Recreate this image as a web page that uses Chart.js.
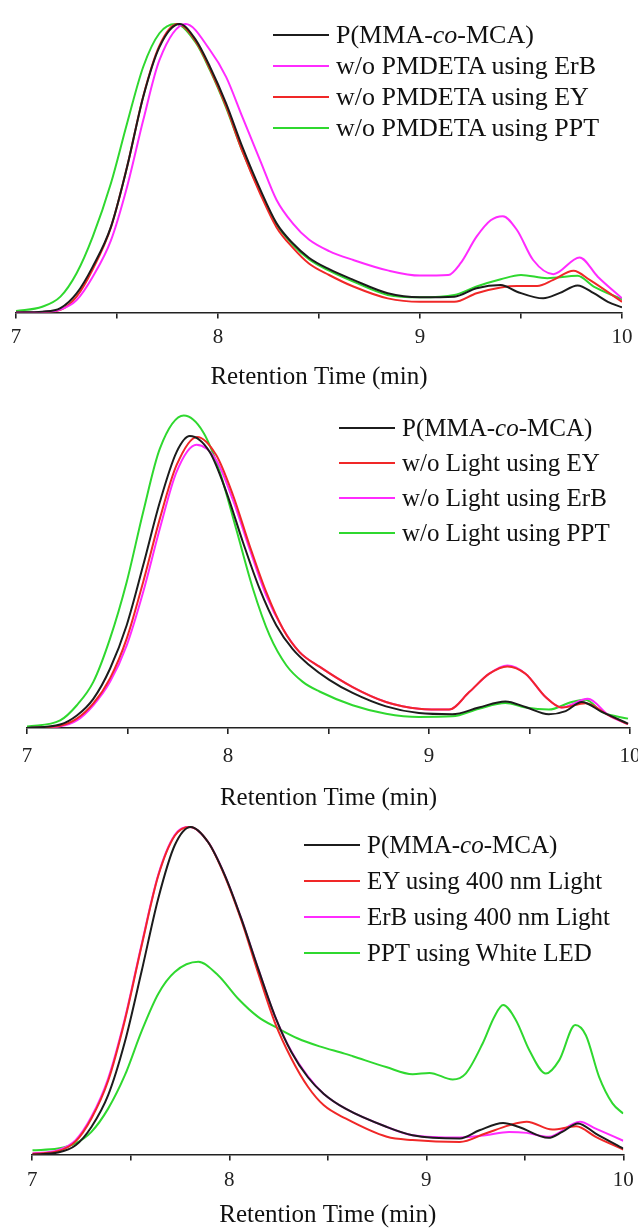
<!DOCTYPE html>
<html>
<head>
<meta charset="utf-8">
<script src="https://cdn.jsdelivr.net/npm/chart.js@4.4.1/dist/chart.umd.min.js"></script>
<style>
    html, body { margin: 0; padding: 0; background: #fff; }
    body {
        width: 638px; height: 1228px; overflow: hidden; position: relative;
        font-family: "Liberation Serif", "Times New Roman", serif;
    }
    canvas { position: absolute; left: 0; }
    .legend { position: absolute; font-size: 25px; color: #111; }
    .legend .row { display: flex; align-items: center; white-space: nowrap; }
    .legend .swatch { display: inline-block; width: 56px; height: 2px; margin-right: 7px; }
</style>
</head>
<body>
<canvas id="gpc-1" width="660" height="400" style="top:0px"></canvas>
<canvas id="gpc-2" width="660" height="420" style="top:400px"></canvas>
<canvas id="gpc-3" width="660" height="430" style="top:805px"></canvas>
<div class="legend" id="legend-1" style="left:273px; top:19.5px; font-size:26px"></div>
<div class="legend" id="legend-2" style="left:339px; top:410.5px"></div>
<div class="legend" id="legend-3" style="left:304px; top:827px"></div>

<script>
// x tick labels (min) and axis title
const xTicks = [7, 8, 9, 10];
const xTitle = 'Retention Time (min)';

const BLACK = '#1c1c1c', MAGENTA = '#ff2bff', RED = '#f02828', GREEN = '#2fd82f';

// ---- panel 1: w/o PMDETA ----
const p1CopolyX = [7.0, 7.13, 7.22, 7.30, 7.38, 7.47, 7.55, 7.63, 7.71, 7.81, 7.89, 7.96, 8.04, 8.12, 8.21, 8.29, 8.37, 8.45, 8.55, 8.67, 8.84, 9.0, 9.17, 9.28, 9.40, 9.48, 9.61, 9.69, 9.78, 9.86, 9.93, 10.0];
const p1CopolyY = [0, 0.3, 1.5, 6.6, 15.9, 29.7, 50.5, 74.8, 92, 100, 94.5, 85.2, 72.5, 57.5, 42.5, 30.9, 24, 19, 15, 11.3, 6.7, 5.3, 5.5, 8.4, 9.5, 7.2, 4.9, 6.7, 9.4, 6.7, 3.7, 1.8];
const p1ErbX = [7.0, 7.13, 7.22, 7.30, 7.38, 7.47, 7.55, 7.63, 7.71, 7.84, 7.96, 8.04, 8.12, 8.21, 8.29, 8.37, 8.45, 8.55, 8.67, 8.84, 9.0, 9.14, 9.20, 9.28, 9.35, 9.41, 9.48, 9.56, 9.66, 9.79, 9.88, 10.0];
const p1ErbY = [0, 0.2, 1.0, 4.3, 12.4, 25, 43.6, 66.7, 87.5, 100, 91, 81.7, 67.9, 52.5, 39, 30.9, 25.3, 21.3, 18.2, 14.6, 12.8, 13, 17, 26.3, 32, 33.4, 28.6, 18.2, 13.3, 19.1, 12.4, 4.9];
const p1EyX = [7.0, 7.13, 7.22, 7.30, 7.38, 7.47, 7.55, 7.63, 7.71, 7.80, 7.89, 7.96, 8.04, 8.12, 8.21, 8.29, 8.37, 8.45, 8.55, 8.67, 8.84, 9.0, 9.17, 9.28, 9.40, 9.48, 9.58, 9.66, 9.76, 9.84, 10.0];
const p1EyY = [0, 0.1, 0.9, 5.5, 15, 29.5, 50.5, 75, 92.5, 100, 94, 84.5, 71.5, 56, 41, 29.5, 22.5, 17, 13, 9, 4.9, 3.7, 3.7, 6.7, 8.7, 9.2, 9.2, 11.3, 14.5, 11.3, 3.7];
const p1PptX = [7.0, 7.13, 7.22, 7.30, 7.38, 7.47, 7.55, 7.63, 7.71, 7.79, 7.89, 7.96, 8.04, 8.12, 8.21, 8.29, 8.37, 8.45, 8.55, 8.67, 8.84, 9.0, 9.17, 9.28, 9.40, 9.50, 9.63, 9.78, 9.86, 10.0];
const p1PptY = [0.5, 2, 5.5, 13.6, 26.3, 44.8, 65.6, 85.2, 96.8, 100, 93.5, 84, 71, 56, 41.5, 30.5, 23.5, 18.5, 14.5, 10.7, 6.1, 5.3, 6.1, 9, 11.5, 13, 11.9, 12.7, 9, 4.6];

// ---- panel 2: w/o Light ----
const p2CopolyX = [7.0, 7.165, 7.248, 7.33, 7.413, 7.496, 7.578, 7.661, 7.744, 7.81, 7.909, 7.992, 8.074, 8.157, 8.24, 8.322, 8.405, 8.504, 8.62, 8.786, 8.95, 9.116, 9.248, 9.38, 9.48, 9.596, 9.68, 9.76, 9.86, 9.99];
const p2CopolyY = [0, 1.2, 4.3, 10, 20.3, 35.2, 55.7, 77.4, 94.5, 100, 94.5, 80.8, 63.7, 47.7, 35.2, 27, 21.5, 16.5, 12, 7.4, 5.1, 4.7, 7, 9.1, 7.2, 4.7, 5.8, 8.9, 5.5, 1.5];
const p2EyX = [7.0, 7.165, 7.248, 7.33, 7.413, 7.496, 7.578, 7.661, 7.744, 7.846, 7.942, 8.025, 8.107, 8.19, 8.273, 8.356, 8.455, 8.62, 8.786, 8.95, 9.1, 9.2, 9.3, 9.39, 9.48, 9.58, 9.66, 9.78, 9.895, 9.99];
const p2EyY = [0, 0.8, 3.2, 8.4, 17, 30.6, 50, 71.7, 90, 99.7, 93.4, 79.7, 62.6, 46.6, 34, 26, 21, 14, 8.9, 6.6, 6.3, 12.3, 18.6, 21.1, 18.6, 10.6, 7, 8.5, 4.3, 1.3];
const p2ErbX = [7.0, 7.165, 7.248, 7.33, 7.413, 7.496, 7.578, 7.661, 7.744, 7.843, 7.942, 8.025, 8.107, 8.19, 8.273, 8.356, 8.455, 8.62, 8.786, 8.95, 9.1, 9.2, 9.3, 9.39, 9.48, 9.58, 9.66, 9.79, 9.895, 9.99];
const p2ErbY = [0, 0.6, 2.6, 7.8, 15.8, 28.3, 46.6, 68.3, 87.7, 97, 91.7, 78, 61.4, 45.4, 34, 26, 21, 14, 8.9, 6.6, 6.3, 12.3, 18.6, 21.4, 18.6, 10.6, 7, 10, 4.3, 1.3];
const p2PptX = [7.0, 7.165, 7.248, 7.33, 7.413, 7.496, 7.578, 7.661, 7.78, 7.876, 7.959, 8.04, 8.124, 8.207, 8.29, 8.372, 8.455, 8.62, 8.786, 8.95, 9.116, 9.248, 9.38, 9.48, 9.596, 9.71, 9.78, 9.86, 9.99];
const p2PptY = [0.5, 2.6, 7.8, 15.8, 30.6, 50, 74, 95.7, 107, 101.4, 87.7, 68.3, 47.7, 31.7, 21.5, 15.8, 12.5, 7.8, 4.9, 3.8, 4, 6.6, 8.6, 7, 6.3, 8.9, 9.7, 5.5, 3.2];

// ---- panel 3: with light ----
const p3CopolyX = [7.0, 7.13, 7.22, 7.30, 7.385, 7.47, 7.554, 7.639, 7.723, 7.804, 7.892, 7.977, 8.061, 8.146, 8.23, 8.315, 8.40, 8.48, 8.59, 8.80, 8.93, 9.17, 9.27, 9.39, 9.47, 9.62, 9.69, 9.77, 9.86, 10.0];
const p3CopolyY = [0, 0.6, 2.8, 8.4, 18.1, 34.4, 55.7, 78.1, 94.4, 100, 95.4, 85.3, 72, 56.8, 42.5, 31.3, 23.5, 18.5, 14, 8.4, 5.9, 4.9, 7.4, 9.6, 8.4, 5.1, 6.9, 9.5, 6.4, 1.8];
const p3EyX = [7.0, 7.13, 7.22, 7.30, 7.385, 7.47, 7.554, 7.639, 7.723, 7.80, 7.892, 7.977, 8.061, 8.146, 8.23, 8.315, 8.40, 8.48, 8.59, 8.80, 8.93, 9.17, 9.30, 9.42, 9.51, 9.64, 9.76, 9.86, 10.0];
const p3EyY = [0.2, 1.0, 4.0, 11, 22.5, 41, 63.5, 85, 97.3, 100, 95.4, 85, 71.5, 55.5, 40.5, 29.3, 20.6, 15, 11, 5.4, 4.4, 3.8, 6.4, 8.9, 10, 7.6, 8.6, 5.4, 1.5];
const p3ErbX = [7.0, 7.13, 7.22, 7.30, 7.385, 7.47, 7.554, 7.639, 7.723, 7.80, 7.892, 7.977, 8.061, 8.146, 8.23, 8.315, 8.40, 8.48, 8.59, 8.80, 8.93, 9.17, 9.30, 9.42, 9.51, 9.62, 9.78, 9.86, 10.0];
const p3ErbY = [0.3, 1.3, 4.4, 11.5, 23.2, 41.5, 63.9, 85.3, 97.5, 100, 95.4, 85.3, 72, 56.8, 42.5, 31.5, 23.8, 18.5, 14, 8.4, 5.9, 5.2, 5.9, 6.9, 6.6, 5.4, 10, 7.9, 4.2];
const p3PptX = [7.0, 7.13, 7.22, 7.30, 7.385, 7.47, 7.554, 7.639, 7.723, 7.843, 7.943, 8.044, 8.146, 8.247, 8.348, 8.458, 8.585, 8.627, 8.796, 8.931, 9.016, 9.134, 9.20, 9.286, 9.345, 9.39, 9.455, 9.523, 9.607, 9.675, 9.756, 9.81, 9.877, 9.945, 10.0];
const p3PptY = [1.3, 1.8, 3.4, 6.9, 14, 24.2, 37.5, 49, 55.7, 58.8, 54.7, 47.6, 42, 38.5, 35.4, 33, 30.8, 30, 26.7, 24.5, 24.9, 22.9, 24.7, 33.9, 42, 45.6, 41, 31.8, 24.7, 28.8, 39.5, 36.4, 23.7, 15.6, 12.5];

const panels = [
    {
        id: 'gpc-1', legend: 'legend-1', rowH: 31,
        padTop: 9.6, padLeft: 16, padRight: 38, axisH: 87.5, yMax: 105, tickPad: 6, titlePad: 8,
        series: [
            { label: 'P(MMA-co-MCA)', color: BLACK, x: p1CopolyX, y: p1CopolyY },
            { label: 'w/o PMDETA using ErB', color: MAGENTA, x: p1ErbX, y: p1ErbY },
            { label: 'w/o PMDETA using EY', color: RED, x: p1EyX, y: p1EyY },
            { label: 'w/o PMDETA using PPT', color: GREEN, x: p1PptX, y: p1PptY }
        ]
    },
    {
        id: 'gpc-2', legend: 'legend-2', rowH: 35,
        padTop: 6.8, padLeft: 27, padRight: 30, axisH: 92, yMax: 110, tickPad: 10, titlePad: 7,
        series: [
            { label: 'P(MMA-co-MCA)', color: BLACK, x: p2CopolyX, y: p2CopolyY },
            { label: 'w/o Light using EY', color: RED, x: p2EyX, y: p2EyY },
            { label: 'w/o Light using ErB', color: MAGENTA, x: p2ErbX, y: p2ErbY },
            { label: 'w/o Light using PPT', color: GREEN, x: p2PptX, y: p2PptY }
        ]
    },
    {
        id: 'gpc-3', legend: 'legend-3', rowH: 36,
        padTop: 5.5, padLeft: 32.3, padRight: 36.7, axisH: 80.5, yMax: 105, tickPad: 7, titlePad: 5,
        series: [
            { label: 'P(MMA-co-MCA)', color: BLACK, x: p3CopolyX, y: p3CopolyY },
            { label: 'EY using 400 nm Light', color: RED, x: p3EyX, y: p3EyY },
            { label: 'ErB using 400 nm Light', color: MAGENTA, x: p3ErbX, y: p3ErbY },
            { label: 'PPT using White LED', color: GREEN, x: p3PptX, y: p3PptY }
        ]
    }
];

function buildLegend(chart, el, rowH) {
    chart.data.datasets.forEach(ds => {
        const row = document.createElement('div');
        row.className = 'row';
        row.style.height = rowH + 'px';
        const swatch = document.createElement('span');
        swatch.className = 'swatch';
        swatch.style.background = ds.borderColor;
        const text = document.createElement('span');
        text.innerHTML = ds.label.replace('-co-', '-<i>co</i>-');
        row.appendChild(swatch);
        row.appendChild(text);
        el.appendChild(row);
    });
}

panels.forEach(p => {
    const chart = new Chart(document.getElementById(p.id), {
        type: 'line',
        data: {
            datasets: p.series.map(s => ({
                label: s.label,
                data: s.x.map((x, i) => ({ x: x, y: s.y[i] })),
                borderColor: s.color,
                borderWidth: 2,
                pointRadius: 0,
                fill: false,
                cubicInterpolationMode: 'monotone'
            }))
        },
        options: {
            responsive: false,
            animation: false,
            layout: { padding: { top: p.padTop, left: p.padLeft, right: p.padRight, bottom: 0 } },
            plugins: { legend: { display: false }, tooltip: { enabled: false } },
            scales: {
                x: {
                    type: 'linear',
                    min: 7,
                    max: 10,
                    afterFit: scale => { scale.height = p.axisH; },
                    border: { display: true, color: '#222', width: 1.6 },
                    grid: { drawOnChartArea: false, drawTicks: true, tickLength: 6, color: '#222', lineWidth: 1.6 },
                    ticks: {
                        stepSize: 0.5,
                        padding: p.tickPad,
                        color: '#222',
                        maxRotation: 0,
                        autoSkip: false,
                        font: { family: 'Liberation Serif', size: 21 },
                        callback: v => xTicks.includes(v) ? String(v) : ''
                    },
                    title: {
                        display: true,
                        text: xTitle,
                        color: '#111',
                        padding: { top: 0, bottom: p.titlePad },
                        font: { family: 'Liberation Serif', size: 25 }
                    }
                },
                y: { display: false, min: 0, max: p.yMax }
            }
        }
    });
    buildLegend(chart, document.getElementById(p.legend), p.rowH);
});
</script>
</body>
</html>
